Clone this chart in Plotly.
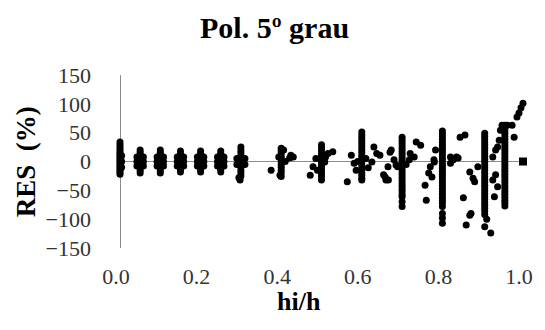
import plotly.graph_objects as go

# Dense vertical stacks of residuals: one hi/h value, many RES values (%)
col_hi_h = [0.0, 0.05, 0.10, 0.15, 0.20, 0.25, 0.30, 0.40, 0.50, 0.60, 0.70, 0.80, 0.905, 0.955]
col_res = [
    [34, 29, 25, 21, 17, 14, 11, 8, 5, 2, -1, -4, -7, -10, -13, -16, -19, -22],
    [20, 16, 12, 8, 4, 0, -4, -8, -12, -16, -20],
    [20, 16, 12, 8, 4, 0, -4, -8, -12, -16, -20],
    [18, 14, 10, 6, 2, -2, -6, -10, -14, -18],
    [18, 14, 10, 6, 2, -2, -6, -10, -14, -18],
    [18, 14, 10, 6, 2, -2, -6, -10, -14, -18],
    [25, 20, 15, 10, 5, 0, -5, -10, -15, -20, -25],
    [23, 19, 15, 10, 5, 0, -5, -10, -15, -20, -26],
    [29, 24, 19, 14, 9, 4, -1, -6, -11, -16, -21, -26, -32],
    [51, 46, 41, 36, 31, 26, 21, 16, 11, 6, 1, -4, -9, -14, -19, -24, -29, -32],
    [42, 37, 32, 27, 22, 17, 12, 7, 2, -3, -8, -13, -18, -23, -28, -33, -38, -43,
     -48, -53, -58, -61, -70, -78],
    [53, 48, 43, 38, 33, 28, 23, 18, 13, 8, 3, -2, -7, -12, -17, -22, -27, -32,
     -37, -42, -47, -52, -57, -62, -67, -72, -78, -90, -98, -107],
    [49, 44, 39, 34, 29, 24, 19, 14, 9, 4, -1, -6, -11, -16, -21, -26, -31, -36,
     -41, -46, -51, -56, -61, -66, -71, -76, -81, -86, -92],
    [63, 58, 53, 48, 43, 38, 33, 28, 23, 18, 13, 8, 3, -2, -7, -12, -17, -22,
     -27, -32, -37, -42, -47, -52, -57, -62, -67, -72, -77],
]

# Individually scattered points
pt_hi_h = [
    0.004, 0.004, 0.004,
    0.042, 0.042, 0.042, 0.058, 0.058, 0.058,
    0.092, 0.092, 0.092, 0.108, 0.108, 0.108,
    0.142, 0.142, 0.142, 0.158, 0.158, 0.158,
    0.192, 0.192, 0.192, 0.208, 0.208, 0.208,
    0.242, 0.242, 0.242, 0.258, 0.258, 0.258,
    0.298, 0.31, 0.31, 0.29, 0.29, 0.295,
    0.375, 0.397, 0.421, 0.43, 0.394, 0.406, 0.41, 0.424,
    0.472, 0.479, 0.516, 0.528, 0.508, 0.486, 0.51, 0.49,
    0.564, 0.574, 0.581, 0.586, 0.63, 0.637, 0.625, 0.616, 0.645, 0.658, 0.666, 0.61, 0.59,
    0.673, 0.68, 0.689, 0.665, 0.654, 0.66, 0.67, 0.685, 0.718, 0.72, 0.73, 0.735, 0.746, 0.71,
    0.757, 0.76, 0.766, 0.77, 0.78, 0.783, 0.779, 0.774, 0.82, 0.827, 0.839, 0.835, 0.82,
    0.844, 0.856, 0.852, 0.871, 0.859, 0.868,
    0.868, 0.876, 0.88, 0.888, 0.905, 0.92, 0.925, 0.925, 0.929, 0.937, 0.932, 0.932,
    0.937, 0.941, 0.944, 0.948, 0.91,
    0.961, 0.973, 0.978, 0.985, 0.99, 0.995, 1.0,
]
pt_res = [
    10, 0, -10,
    8, 0, -8, 8, 0, -8,
    8, 0, -8, 8, 0, -8,
    8, 0, -8, 8, 0, -8,
    8, 0, -8, 8, 0, -8,
    8, 0, -8, 8, 0, -8,
    -32, 5, -5, 5, -5, -28,
    -15, -24, 6, 8, 8, 20, 0, 11,
    -24, -9, 14, 17, -1, 5, 8, -15,
    -35, 11, -3, -15, 25, 14, -1, -11, 11, -27, -32, 5, 0,
    20, 3, -9, -9, -23, -32, 16, -6, 3, 14, 8, 34, 28, -5,
    -41, -67, -20, -9, -1, 20, 3, -27, 8, 3, 6, 8, -3,
    42, 46, -63, -90, -110, -93,
    -18, -29, -35, -9, -113, -124, 8, -32, -61, -44, -23, 20,
    25, 37, 54, 63, -100,
    63, 63, 42, 77, 84, 93, 101,
]

end_hi_h = [1.0]
end_res = [0]

y_ticks = [150, 100, 50, 0, -50, -100, -150]
x_ticks = [0.0, 0.2, 0.4, 0.6, 0.8, 1.0]
x_tick_text = ["0.0", "0.2", "0.4", "0.6", "0.8", "1.0"]

assert len(pt_hi_h) == len(pt_res)

xs, ys = [], []
for xv, stack in zip(col_hi_h, col_res):
    for yv in stack:
        xs.append(xv)
        ys.append(yv)
xs += pt_hi_h
ys += pt_res

FONT = "Liberation Serif, Times New Roman, serif"

fig = go.Figure()
fig.add_trace(go.Scatter(
    x=xs, y=ys, mode="markers",
    marker=dict(color="black", size=7, symbol="circle", line=dict(width=0)),
    cliponaxis=False, showlegend=False, hoverinfo="skip",
))
fig.add_trace(go.Scatter(
    x=end_hi_h, y=end_res, mode="markers",
    marker=dict(color="black", size=8, symbol="square", line=dict(width=0)),
    cliponaxis=False, showlegend=False, hoverinfo="skip",
))

fig.update_layout(
    width=545, height=330,
    margin=dict(l=120, r=12, t=75, b=82),
    paper_bgcolor="white", plot_bgcolor="white",
    font=dict(family=FONT, size=22, color="#333333"),
    xaxis=dict(
        range=[0, 1.0], tickvals=x_ticks, ticktext=x_tick_text,
        showgrid=False, showline=False, zeroline=True,
        zerolinecolor="#8c8c8c", zerolinewidth=1,
        ticks="", ticklabelstandoff=13, ticklabelshift=-4,
        ticklabeloverflow="allow",
        tickfont=dict(family=FONT, size=22, color="#333333"),
    ),
    yaxis=dict(
        range=[-150, 150], tickvals=y_ticks,
        showgrid=False, showline=False, zeroline=True,
        zerolinecolor="#8c8c8c", zerolinewidth=1,
        ticks="", ticklabelstandoff=28,
        tickfont=dict(family=FONT, size=22, color="#333333"),
    ),
    annotations=[
        dict(text="<b>Pol. 5º grau</b>", xref="paper", yref="paper",
             x=(278 - 120) / 413, y=1 + (75 - 28) / 173, xanchor="center", yanchor="middle",
             showarrow=False, font=dict(family=FONT, size=30, color="black")),
        dict(text="<b>hi/h</b>", xref="paper", yref="paper",
             x=(303 - 120) / 413, y=-(301 - 248) / 173, xanchor="center", yanchor="middle",
             showarrow=False, font=dict(family=FONT, size=26, color="black")),
        dict(text="<b>RES  (%)</b>", xref="paper", yref="paper",
             x=-(120 - 24) / 413, y=(248 - 162) / 173, xanchor="center", yanchor="middle",
             textangle=-90, showarrow=False, font=dict(family=FONT, size=27, color="black")),
    ],
)

fig.write_html("out.html")
